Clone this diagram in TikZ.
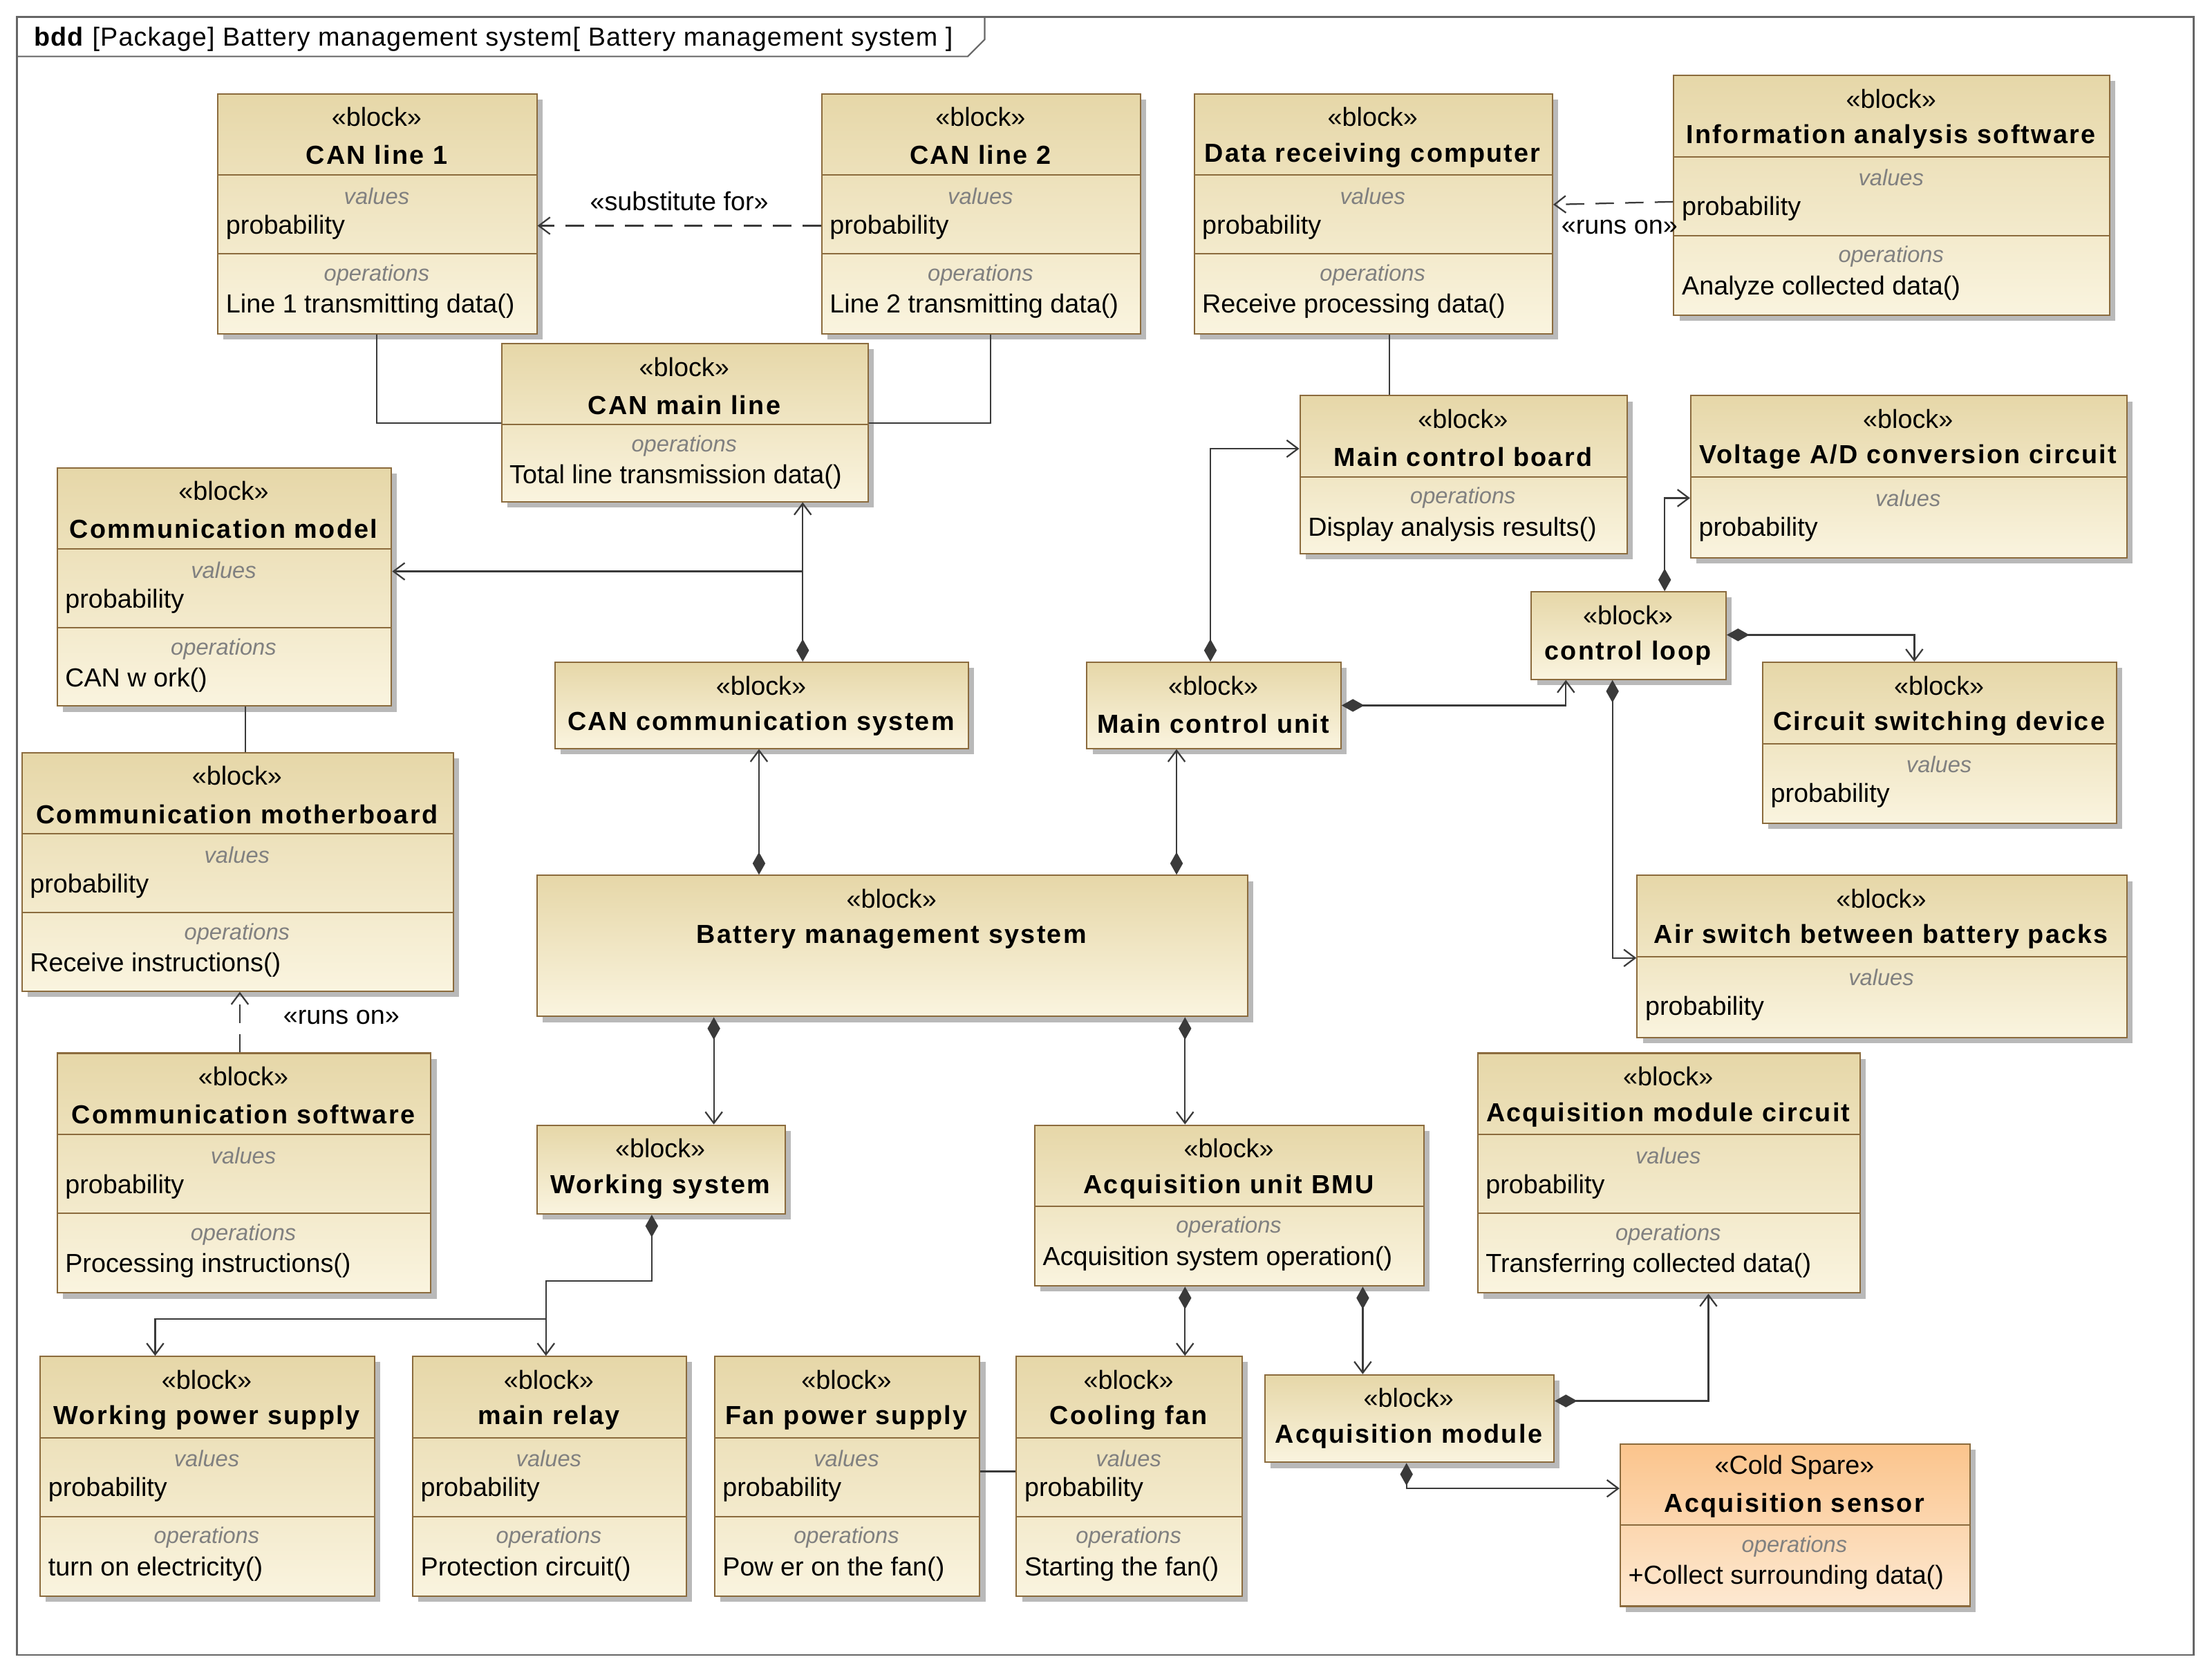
\documentclass[tikz,border=0pt]{standalone}
\usepackage{fontspec}
\setmainfont{Liberation Sans}
\newfontfamily\bsp{Liberation Sans}[LetterSpace=6]
\newfontfamily\tsp{Liberation Sans}[LetterSpace=3]
\usetikzlibrary{arrows.meta,shadows,calc}
\definecolor{lc}{HTML}{3A3A3A}
\definecolor{bd}{HTML}{8B6B3D}
\definecolor{ftop}{HTML}{E6D7A8}
\definecolor{fbot}{HTML}{FAF4DF}
\definecolor{stop}{HTML}{FBC48C}
\definecolor{sbot}{HTML}{FDE9D2}
\tikzset{
 blk/.style={draw=bd,line width=1pt,top color=ftop,bottom color=fbot,drop shadow={shadow xshift=4pt,shadow yshift=-4pt,fill=gray!55,opacity=1}},
 sen/.style={draw=bd,line width=1pt,top color=stop,bottom color=sbot,drop shadow={shadow xshift=4pt,shadow yshift=-4pt,fill=gray!55,opacity=1}},
 ft/.style={font=\fontsize{18.5}{21}\selectfont,inner sep=0pt},
 fb/.style={font=\fontsize{18.5}{21}\selectfont\bsp\bfseries,inner sep=0pt},
 fi/.style={font=\fontsize{16}{19}\selectfont\itshape,text=gray,inner sep=0pt},
 conn/.style={draw=lc,line width=1.1pt},
 arr/.style={conn,-{Straight Barb[length=8pt,width=12pt]}},
 da/.style={conn,{Diamond[length=16pt,width=9pt,fill=lc]}-{Straight Barb[length=8pt,width=12pt]}},
 dsh/.style={dash pattern=on 13pt off 8pt},
}
\def\ster{«block»}
% name x1 y1 x2 y2 title kind op style
\newcommand\ublk[9]{%
 \pgfmathsetmacro\ww{#4-#2}\pgfmathsetmacro\hh{#5-#3}\pgfmathsetmacro\cx{(#2+#4)/2}%
 \node[#9,minimum width=\ww pt,minimum height=\hh pt,anchor=north west,inner sep=0pt] (#1) at (#2,#3) {};
 \node[ft] at (\cx,#3+17) {\ster};
 \node[fb] at (\cx,#3+44) {#6};
 \ifcase#7\relax
 \or
  \draw[bd,line width=1pt] (#2,#3+58) -- (#4,#3+58);
  \node[fi] at (\cx,#3+73) {values};
  \node[ft,anchor=west] at (#2+6,#3+95) {probability};
 \or
  \draw[bd,line width=1pt] (#2,#3+58) -- (#4,#3+58);
  \node[fi] at (\cx,#3+73) {operations};
  \node[ft,anchor=west] at (#2+6,#3+95) {#8};
 \or
  \draw[bd,line width=1pt] (#2,#3+58) -- (#4,#3+58);
  \node[fi] at (\cx,#3+73) {values};
  \node[ft,anchor=west] at (#2+6,#3+95) {probability};
  \draw[bd,line width=1pt] (#2,#3+114) -- (#4,#3+114);
  \node[fi] at (\cx,#3+129) {operations};
  \node[ft,anchor=west] at (#2+6,#3+151) {#8};
 \fi}
\begin{document}
\begin{tikzpicture}[x=1pt,y=-1pt]
\useasboundingbox[fill=white] (0,0) rectangle (1568,1187);
\draw[gray!80!black,line width=1pt] (12,12) rectangle (1555,1173);
\draw[gray!80!black,line width=1pt] (12,40) -- (686,40) -- (698,28) -- (698,12);
\node[ft,font=\fontsize{18.5}{21}\selectfont\tsp,anchor=west] (ttl) at (24,28) {\textbf{bdd} [Package] Battery management system[ Battery management system ]};

\ublk{can1}{154}{66}{380}{236}{CAN line 1}{3}{Line 1 transmitting data()}{blk}
\ublk{can2}{582}{66}{808}{236}{CAN line 2}{3}{Line 2 transmitting data()}{blk}
\ublk{drc}{846}{66}{1100}{236}{Data receiving computer}{3}{Receive processing data()}{blk}
\ublk{ias}{1186}{53}{1495}{223}{Information analysis software}{3}{Analyze collected data()}{blk}
\ublk{canmain}{355}{243}{615}{355}{CAN main line}{2}{Total line transmission data()}{blk}
\ublk{mcb}{921}{280}{1153}{392}{Main control board}{2}{Display analysis results()}{blk}
\ublk{vad}{1198}{280}{1507}{395}{Voltage A/D conversion circuit}{1}{}{blk}
\ublk{cm}{40}{331}{277}{500}{Communication model}{3}{CAN w ork()}{blk}
\ublk{cl}{1085}{419}{1223}{481}{control loop}{0}{}{blk}
\ublk{cancomm}{393}{469}{686}{530}{CAN communication system}{0}{}{blk}
\ublk{mcu}{770}{469}{950}{530}{Main control unit}{0}{}{blk}
\ublk{csd}{1249}{469}{1500}{583}{Circuit switching device}{1}{}{blk}
\ublk{cmb}{15}{533}{321}{702}{Communication motherboard}{3}{Receive instructions()}{blk}
\ublk{bms}{380}{620}{884}{720}{Battery management system}{0}{}{blk}
\ublk{asw}{1160}{620}{1507}{735}{Air switch between battery packs}{1}{}{blk}
\ublk{cs}{40}{746}{305}{916}{Communication software}{3}{Processing instructions()}{blk}
\ublk{ws}{380}{797}{556}{860}{Working system}{0}{}{blk}
\ublk{bmu}{733}{797}{1009}{911}{Acquisition unit BMU}{2}{Acquisition system operation()}{blk}
\ublk{amc}{1047}{746}{1318}{916}{Acquisition module circuit}{3}{Transferring collected data()}{blk}
\ublk{wps}{28}{961}{265}{1131}{Working power supply}{3}{turn on electricity()}{blk}
\ublk{relay}{292}{961}{486}{1131}{main relay}{3}{Protection circuit()}{blk}
\ublk{fps}{506}{961}{694}{1131}{Fan power supply}{3}{Pow er on the fan()}{blk}
\ublk{fan}{720}{961}{880}{1131}{Cooling fan}{3}{Starting the fan()}{blk}
\ublk{am}{896}{974}{1101}{1036}{Acquisition module}{0}{}{blk}
\def\ster{«Cold Spare»}
\ublk{sensor}{1148}{1023}{1396}{1138}{Acquisition sensor}{2}{+Collect surrounding data()}{sen}

% dependencies
\draw[arr,dsh] (can2.west|-0,160) -- (can1.east|-0,160) node[ft,midway,above=10pt] {«substitute for»};
\draw[arr,dsh] (ias.west|-0,143) -- (drc.east|-0,145);
\node[ft] (ro1) at (1148,161) {«runs on»};
\draw[arr,dsh] (cs.north-|170,0) -- (cmb.south-|170,0);
\node[ft] (ro2) at (242,721) {«runs on»};
% plain lines
\draw[conn] (can1.south-|267,0) -- (267,300) -- (canmain.west|-0,300);
\draw[conn] (can2.south-|702,0) -- (702,300) -- (canmain.east|-0,300);
\draw[conn] (drc.south-|985,0) -- (mcb.north-|985,0);
\draw[conn] (cm.south-|174,0) -- (cmb.north-|174,0);
\draw[conn] (fps.east|-0,1043) -- (fan.west|-0,1043);
% compositions
\draw[da] (cancomm.north-|569,0) -- (canmain.south-|569,0);
\draw[arr] (569,405) -- (cm.east|-0,405);
\draw[da] (mcu.north-|858,0) -- (858,318) -- (mcb.west|-0,318);
\draw[da] (mcu.east|-0,500) -- (1110,500) -- (cl.south-|1110,0);
\draw[da] (cl.north-|1180,0) -- (1180,353) -- (vad.west|-0,353);
\draw[da] (cl.east|-0,450) -- (1357,450) -- (csd.north-|1357,0);
\draw[da] (cl.south-|1143,0) -- (1143,679) -- (asw.west|-0,679);
\draw[da] (bms.north-|538,0) -- (cancomm.south-|538,0);
\draw[da] (bms.north-|834,0) -- (mcu.south-|834,0);
\draw[da] (bms.south-|506,0) -- (ws.north-|506,0);
\draw[da] (bms.south-|840,0) -- (bmu.north-|840,0);
\draw[da] (ws.south-|462,0) -- (462,908) -- (387,908) -- (relay.north-|387,0);
\draw[arr] (387,935) -- (110,935) -- (wps.north-|110,0);
\draw[da] (bmu.south-|840,0) -- (fan.north-|840,0);
\draw[da] (bmu.south-|966,0) -- (am.north-|966,0);
\draw[da] (am.east|-0,993) -- (1211,993) -- (amc.south-|1211,0);
\draw[da] (am.south-|997,0) -- (997,1055) -- (sensor.west|-0,1055);
\end{tikzpicture}
\end{document}
